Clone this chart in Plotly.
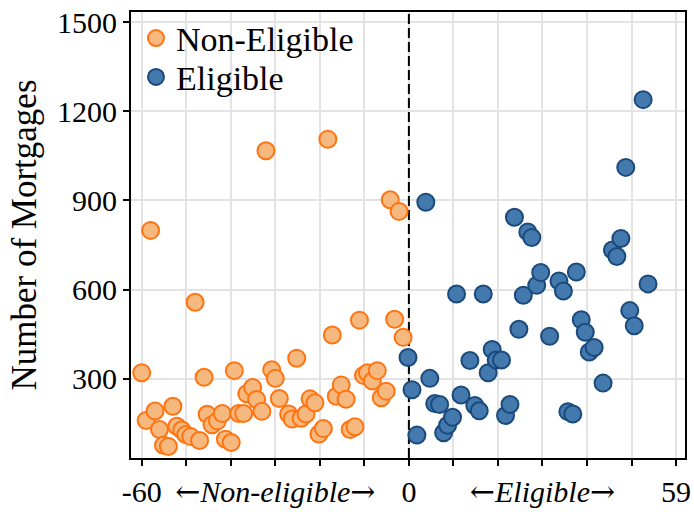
import plotly.graph_objects as go

# Distance from the eligibility cutoff and mortgage counts, non-eligible side
non_eligible_x = [-60, -59, -58, -57, -56, -55.1, -54, -53, -52.1, -51, -50.1, -49, -48, -47,
                  -46, -45.3, -44.2, -43, -41.9, -41.2, -39.9, -39.2, -38.2, -37.1, -36.4,
                  -35.1, -34.2, -33, -32.1, -30.8, -30, -29.1, -27, -26.2, -25.2, -24.2,
                  -23.1, -22.2, -21.1, -20.2, -19.2, -18.2, -17.2, -16.3, -15.2, -14.1,
                  -13.2, -12.1, -11.1, -10.2, -9.3, -8.2, -7.1, -6.2, -5.1, -4.2, -3.2,
                  -2.2, -1.3]
non_eligible_y = [320, 159, 799, 191, 129, 76, 72, 207, 140, 127, 112, 105, 557, 92,
                  305, 180, 145, 158, 183, 96, 85, 327, 183, 183, 249,
                  270, 230, 190, 1067, 330, 301, 233, 181, 164, 369, 167,
                  181, 232, 219, 114, 132, 1106, 447, 241, 279, 231,
                  129, 138, 497, 311, 320, 292, 327, 236, 258, 902, 500,
                  863, 439]

# Eligible side
eligible_x = [-0.2, 0.7, 1.8, 3.8, 4.7, 5.8, 6.9, 7.8, 8.7, 9.8, 10.7, 11.7, 13.7, 14.8,
              15.8, 16.7, 17.8, 18.7, 19.6, 20.8, 21.7, 22.7, 23.7, 24.7, 25.7, 26.7,
              27.6, 28.7, 29.6, 31.6, 33.7, 34.7, 35.7, 36.8, 37.6, 38.7, 39.6, 40.5,
              41.6, 43.6, 45.7, 46.7, 47.6, 48.7, 49.6, 50.6, 52.6, 53.7]
eligible_y = [371, 263, 110, 894, 301, 216, 213, 118, 143, 170, 585, 245, 361, 210,
              192, 585, 320, 398, 363, 363, 176, 213, 843, 466, 581, 794,
              775, 614, 657, 443, 629, 595, 189, 181, 659, 498, 456, 390,
              405, 285, 733, 711, 772, 1011, 529, 478, 1239, 619]

ARROW_L = "<span style='font-family:DejaVu Serif'>←</span>"
ARROW_R = "<span style='font-family:DejaVu Serif'>→</span>"

x_tick_vals = [-60, -50, -40, -30, -20, -10, 0, 10, 20, 30, 40, 50, 60]
x_tick_text = ["-60", "", "", ARROW_L + "<i>Non-eligible</i>" + ARROW_R, "", "", "0", "", "",
               ARROW_L + "<i>Eligible</i>" + ARROW_R, "", "", "59"]
y_tick_vals = [300, 600, 900, 1200, 1500]

X_RANGE = [-62.4, 62]
Y_RANGE = [33, 1534]
FONT = "Liberation Serif"

fig = go.Figure()

# Cutoff line, drawn first so the markers sit on top of it
fig.add_trace(go.Scatter(
    x=[0, 0], y=Y_RANGE, mode="lines", showlegend=False, hoverinfo="skip",
    line=dict(color="black", width=2, dash="10px,4px"),
))
fig.add_trace(go.Scatter(
    x=non_eligible_x, y=non_eligible_y, mode="markers", name="Non-Eligible",
    marker=dict(size=17, color="#F5B97F", line=dict(color="#FF7410", width=2)),
    legend="legend",
))
fig.add_trace(go.Scatter(
    x=eligible_x, y=eligible_y, mode="markers", name="Eligible",
    marker=dict(size=17, color="#4479AE", line=dict(color="#1A4A7C", width=2)),
    legend="legend2",
))

legend_style = dict(x=0.009, xanchor="left", yanchor="top",
                    font=dict(size=34, family=FONT), bgcolor="rgba(0,0,0,0)",
                    itemsizing="trace")

fig.update_layout(
    width=694, height=512,
    margin=dict(l=131, r=3, t=12, b=41),
    paper_bgcolor="white", plot_bgcolor="white",
    font=dict(family=FONT, size=30, color="black"),
    showlegend=True,
    legend=dict(y=1.0056, **legend_style),
    legend2=dict(y=0.9185, **legend_style),
)
fig.update_xaxes(
    range=X_RANGE, tickmode="array", tickvals=x_tick_vals, ticktext=x_tick_text,
    showgrid=True, gridcolor="#E3E3E3", gridwidth=1.5, zeroline=False,
    showline=True, linecolor="black", linewidth=2, mirror=True,
    ticks="outside", ticklen=6, tickwidth=1.5, tickcolor="black",
    tickfont=dict(size=30, family=FONT), ticklabeloverflow="allow",
)
fig.update_yaxes(
    range=Y_RANGE, tickmode="array", tickvals=y_tick_vals,
    showgrid=True, gridcolor="#E3E3E3", gridwidth=1.5, zeroline=False,
    showline=True, linecolor="black", linewidth=2, mirror=True,
    ticks="outside", ticklen=6, tickwidth=1.5, tickcolor="black",
    tickfont=dict(size=30, family=FONT),
    title=dict(text="Number of Mortgages", font=dict(size=35, family=FONT), standoff=10),
)

fig.write_html("out.html")
